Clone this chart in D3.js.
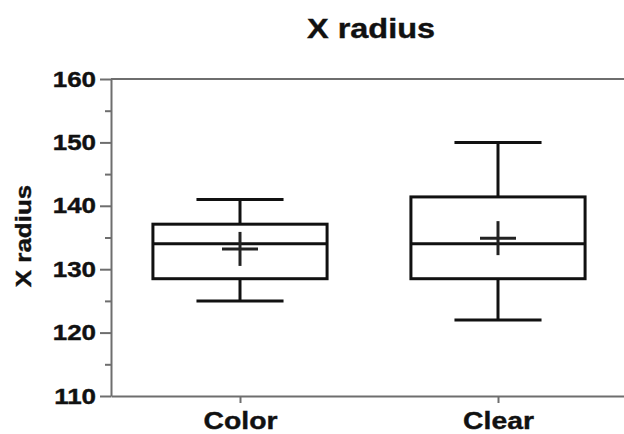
<!DOCTYPE html>
<html>
<head>
<meta charset="utf-8">
<script src="https://cdn.jsdelivr.net/npm/d3@7"></script>
<style>
  body { margin: 0; background: #fff; }
  text { font-family: "Liberation Sans", Arial, sans-serif; font-weight: bold; fill: #111; stroke: #111; stroke-width: 0.4; }
</style>
</head>
<body>
<div id="chart"></div>
<script>
const categories = ['Color', 'Clear'];
const whiskerLow = [125, 122];
const q1 = [128.5, 128.5];
const median = [134, 134];
const q3 = [137.1, 141.4];
const whiskerHigh = [141, 150];
const means = [133.2, 134.9];
const yTicks = [110, 120, 130, 140, 150, 160];
const yMinorTicks = [115, 125, 135, 145, 155];

const width = 624, height = 434;
const axisColor = '#6e6e6e';
const stretch = 1.18; // text in the reference is drawn wider than normal

const svg = d3.select('#chart').append('svg')
    .attr('width', width)
    .attr('height', height);

const x = d3.scalePoint()
    .domain(categories)
    .range([111, 627])
    .padding(0.5);

const y = d3.scaleLinear()
    .domain([110, 160])
    .range([396, 79]);

const boxW = x.step() * 0.675;
const capW = boxW / 2;

// top frame line
svg.append('line')
    .attr('x1', x.range()[0]).attr('x2', x.range()[1])
    .attr('y1', y(160)).attr('y2', y(160))
    .attr('stroke', axisColor).attr('stroke-width', 2);

// minor ticks
svg.append('g')
    .attr('transform', `translate(${x.range()[0]},0)`)
    .call(d3.axisLeft(y).tickValues(yMinorTicks).tickSize(6).tickFormat(''))
    .call(g => g.select('.domain').remove())
    .call(g => g.selectAll('line').attr('stroke', axisColor).attr('stroke-width', 2));

// y axis
svg.append('g')
    .attr('transform', `translate(${x.range()[0]},0)`)
    .call(d3.axisLeft(y).tickValues(yTicks).tickSize(11).tickSizeOuter(0).tickPadding(3))
    .call(g => g.select('.domain').attr('stroke', axisColor).attr('stroke-width', 2))
    .call(g => g.selectAll('line').attr('stroke', axisColor).attr('stroke-width', 2))
    .call(g => g.selectAll('text')
        .attr('font-size', 22)
        .attr('x', -15 / stretch)
        .attr('transform', `scale(${stretch},1)`)
        .attr('font-family', '"Liberation Sans", Arial, sans-serif')
        .attr('font-weight', 'bold')
        .attr('fill', '#111'));

// x axis
svg.append('g')
    .attr('transform', `translate(0,${y(110)})`)
    .call(d3.axisBottom(x).tickSize(7).tickSizeOuter(0).tickPadding(9))
    .call(g => g.select('.domain').attr('stroke', axisColor).attr('stroke-width', 2))
    .call(g => g.selectAll('line').attr('stroke', axisColor).attr('stroke-width', 2))
    .call(g => g.selectAll('text')
        .attr('font-size', 24)
        .attr('transform', `scale(${stretch},1)`)
        .attr('font-family', '"Liberation Sans", Arial, sans-serif')
        .attr('font-weight', 'bold')
        .attr('fill', '#111'));

// boxes
const boxes = svg.append('g')
    .attr('stroke', '#111')
    .attr('stroke-width', 3)
    .attr('fill', 'none');

categories.forEach((c, i) => {
    const cx = x(c);
    const g = boxes.append('g');
    // whiskers
    g.append('line').attr('x1', cx).attr('x2', cx).attr('y1', y(whiskerHigh[i])).attr('y2', y(q3[i]));
    g.append('line').attr('x1', cx).attr('x2', cx).attr('y1', y(q1[i])).attr('y2', y(whiskerLow[i]));
    g.append('line').attr('x1', cx - capW / 2).attr('x2', cx + capW / 2).attr('y1', y(whiskerHigh[i])).attr('y2', y(whiskerHigh[i]));
    g.append('line').attr('x1', cx - capW / 2).attr('x2', cx + capW / 2).attr('y1', y(whiskerLow[i])).attr('y2', y(whiskerLow[i]));
    // box
    g.append('rect')
        .attr('x', cx - boxW / 2)
        .attr('y', y(q3[i]))
        .attr('width', boxW)
        .attr('height', y(q1[i]) - y(q3[i]));
    // median
    g.append('line').attr('x1', cx - boxW / 2).attr('x2', cx + boxW / 2).attr('y1', y(median[i])).attr('y2', y(median[i]));
    // mean cross
    g.append('line').attr('x1', cx - 18).attr('x2', cx + 18).attr('y1', y(means[i])).attr('y2', y(means[i])).attr('stroke', '#222');
    g.append('line').attr('x1', cx).attr('x2', cx).attr('y1', y(means[i]) - 17).attr('y2', y(means[i]) + 17).attr('stroke', '#222');
});

// title
svg.append('text')
    .attr('transform', `translate(371,38) scale(${stretch},1)`)
    .attr('text-anchor', 'middle')
    .attr('font-size', 27.5)
    .text('X radius');

// y axis title (rotated, so stretch runs along its length)
svg.append('text')
    .attr('transform', `translate(31,236) rotate(-90) scale(${stretch},1)`)
    .attr('text-anchor', 'middle')
    .attr('font-size', 22)
    .text('X radius');
</script>
</body>
</html>
